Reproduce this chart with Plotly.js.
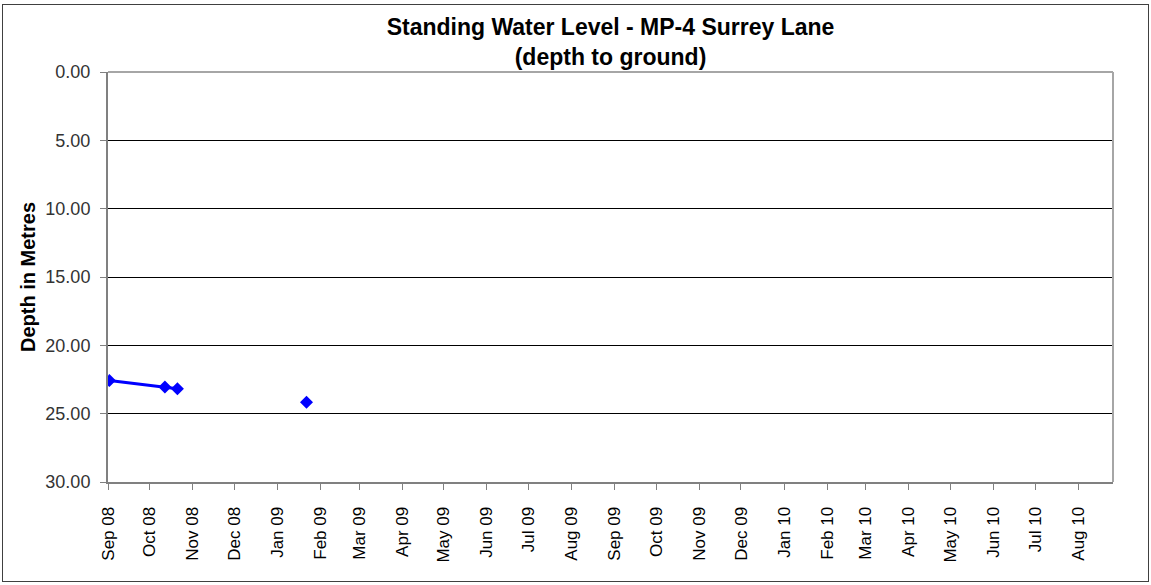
<!DOCTYPE html>
<html>
<head>
<meta charset="utf-8">
<script src="https://cdn.plot.ly/plotly-3.0.1.min.js"></script>
<style>
  html, body { margin: 0; padding: 0; background: #fff; }
  #wrap { position: relative; width: 1151px; height: 585px; }
  #chart { width: 1151px; height: 585px; }
  #frame { position: absolute; left: 2px; top: 4px; width: 1145px; height: 576px;
           border: 1px solid #404040; pointer-events: none; }
</style>
</head>
<body>
<div id="wrap">
  <div id="chart"></div>
  <div id="frame"></div>
</div>
<script>
// Measurement dates and standing water level (depth to ground, metres)
const dates = ['2008-09-02', '2008-10-12', '2008-10-21', '2008-12-15', '2009-01-22'];
const depths = [22.58, 23.04, 23.17, null, 24.16];

const titleText = 'Standing Water Level - MP-4 Surrey Lane<br>(depth to ground)';
const yTitle = 'Depth in Metres';
const xRange = ['2008-09-01', '2010-08-26'];
const yRange = [30, 0];

const trace = {
  x: dates,
  y: depths,
  type: 'scatter',
  mode: 'lines+markers',
  connectgaps: false,
  line: { color: '#0000FF', width: 3 },
  marker: { symbol: 'diamond', size: 10, color: '#0000FF' },
  hoverinfo: 'x+y'
};

const layout = {
  width: 1151,
  height: 585,
  margin: { l: 108, r: 38, t: 72, b: 103 },
  paper_bgcolor: '#ffffff',
  plot_bgcolor: '#ffffff',
  showlegend: false,
  font: { family: 'Liberation Sans, Arial, sans-serif', color: '#000' },
  title: {
    text: titleText,
    font: { size: 23, family: 'Liberation Sans, Arial, sans-serif', weight: 'bold', color: '#000' },
    x: 0.5, xref: 'paper', xanchor: 'center',
    y: 0.94, yref: 'container', yanchor: 'middle'
  },
  xaxis: {
    type: 'date',
    range: xRange,
    tick0: '2008-09-01',
    dtick: 'M1',
    tickformat: '%b %y',
    tickangle: -90,
    ticks: 'outside',
    ticklen: 6,
    tickcolor: '#808080',
    tickwidth: 1,
    ticklabelstandoff: 10,
    tickfont: { size: 17, color: '#000' },
    showgrid: false,
    showline: true,
    linecolor: '#808080',
    linewidth: 2,
    zeroline: false
  },
  yaxis: {
    range: yRange,
    tick0: 0,
    dtick: 5,
    tickformat: '.2f',
    ticks: 'outside',
    ticklen: 6,
    tickcolor: '#808080',
    ticklabelstandoff: 6,
    tickfont: { size: 18, color: '#333' },
    showgrid: true,
    gridcolor: '#000000',
    gridwidth: 1,
    showline: true,
    linecolor: '#808080',
    linewidth: 2,
    zeroline: false,
    title: {
      text: yTitle,
      font: { size: 20, weight: 'bold', color: '#000' },
      standoff: 4
    }
  },
  shapes: [
    { type: 'line', xref: 'paper', yref: 'paper', x0: 0, x1: 1, y0: 1, y1: 1,
      line: { color: '#a6a6a6', width: 2 } },
    { type: 'line', xref: 'paper', yref: 'paper', x0: 1, x1: 1, y0: 0, y1: 1,
      line: { color: '#a6a6a6', width: 2 } }
  ]
};

Plotly.newPlot('chart', [trace], layout, { displayModeBar: false, staticPlot: true });
</script>
</body>
</html>
